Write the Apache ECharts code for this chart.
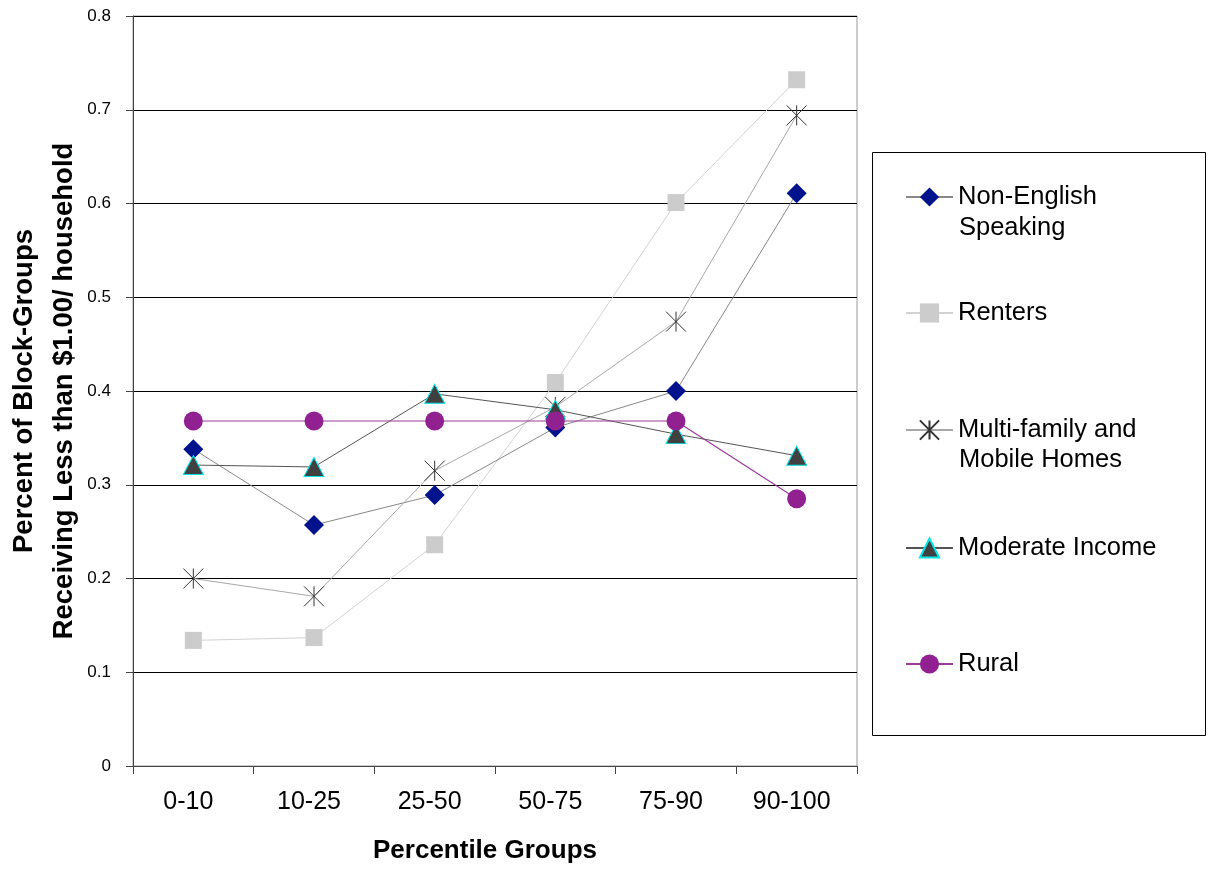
<!DOCTYPE html>
<html>
<head>
<meta charset="utf-8">
<script src="https://cdn.jsdelivr.net/npm/echarts@6/dist/echarts.min.js"></script>
<style>
  html, body { margin: 0; padding: 0; background: #fff; }
  #chart { width: 1208px; height: 873px; }
</style>
</head>
<body>
<div id="chart"></div>
<script>
// Percentile groups along the x axis
const categories = ['0-10', '10-25', '25-50', '50-75', '75-90', '90-100'];

// Share of block-groups receiving less than $1.00 per household
const nonEnglish     = [0.338, 0.257, 0.289, 0.361, 0.400, 0.611];
const renters        = [0.134, 0.137, 0.236, 0.409, 0.601, 0.732];
const multiFamily    = [0.200, 0.181, 0.315, 0.383, 0.474, 0.694];
const moderateIncome = [0.321, 0.319, 0.397, 0.380, 0.354, 0.331];
const rural          = [0.368, 0.368, 0.368, 0.368, 0.368, 0.285];

const yTicks = [0, 0.1, 0.2, 0.3, 0.4, 0.5, 0.6, 0.7, 0.8];

const yTitle = 'Percent of Block-Groups\nReceiving Less than $1.00/ household';
const xTitle = 'Percentile Groups';

const FONT = '"Liberation Sans", Arial, sans-serif';
const starPath = 'path://M0,0L10,10M0,10L10,0M5,0L5,10';

const chart = echarts.init(document.getElementById('chart'), null, { renderer: 'canvas' });

// one legend block per entry so each icon sits on its first text line
const legendRows = [
  { name: 'Non-English Speaking', label: 'Non-English', y: 195 },
  { name: 'Renters', label: 'Renters', y: 311 },
  { name: 'Multi-family and Mobile Homes', label: 'Multi-family and', y: 428 },
  { name: 'Moderate Income', label: 'Moderate Income', y: 546 },
  { name: 'Rural', label: 'Rural', y: 662 }
];

const legends = legendRows.map(r => ({
  data: [r.name],
  left: 905,
  top: r.y - 11,
  padding: 0,
  itemWidth: 47,
  itemHeight: 24,
  itemGap: 0,
  selectedMode: false,
  formatter: () => r.label,
  textStyle: { fontFamily: FONT, fontSize: 25.5, color: '#000' }
}));

const option = {
  animation: false,
  backgroundColor: '#fff',
  grid: {
    left: 133, right: 351, top: 16, bottom: 107,
    containLabel: false, outerBoundsMode: 'none',
    show: true, borderColor: '#999', borderWidth: 1, backgroundColor: 'transparent'
  },
  legend: legends,
  graphic: [
    { type: 'rect', shape: { x: 872.5, y: 152.5, width: 333, height: 583 }, style: { fill: 'none', stroke: '#000', lineWidth: 1 }, z: -1 },
    { type: 'text', x: 959, y: 228, style: { text: 'Speaking', fontFamily: FONT, fontSize: 25.5, fill: '#000', verticalAlign: 'middle' } },
    { type: 'text', x: 959, y: 460, style: { text: 'Mobile Homes', fontFamily: FONT, fontSize: 25.5, fill: '#000', verticalAlign: 'middle' } },
    {
      type: 'text', x: 44, y: 391, rotation: Math.PI / 2,
      style: {
        text: yTitle, fontFamily: FONT, fontSize: 27.5, fontWeight: 'bold', fill: '#000',
        lineHeight: 40, align: 'center', verticalAlign: 'middle'
      }
    }
  ],
  xAxis: {
    type: 'category',
    data: categories,
    boundaryGap: true,
    name: xTitle,
    nameLocation: 'middle',
    nameGap: 72,
    nameTextStyle: { fontFamily: FONT, fontSize: 26, fontWeight: 'bold', color: '#000', padding: [0, 20, 0, 0] },
    axisLine: { show: true, lineStyle: { color: '#444', width: 1 } },
    axisTick: { show: true, alignWithLabel: false, length: 8, lineStyle: { color: '#444' } },
    axisLabel: { fontFamily: FONT, fontSize: 25, color: '#000', margin: 24, padding: [0, 10, 0, 0] },
    splitLine: { show: false }
  },
  yAxis: {
    type: 'value',
    min: 0,
    max: 0.8,
    interval: 0.1,
    axisLine: { show: true, lineStyle: { color: '#444', width: 1 } },
    axisTick: { show: true, length: 7, lineStyle: { color: '#444' } },
    axisLabel: {
      fontFamily: FONT, fontSize: 17, color: '#000', margin: 22,
      formatter: v => {
        const t = yTicks.find(k => Math.abs(k - v) < 1e-6);
        return t === undefined ? '' : String(t);
      }
    },
    splitLine: { show: true, lineStyle: { color: '#000', width: 1 } }
  },
  series: [
    {
      name: 'Non-English Speaking', type: 'line', data: nonEnglish,
      symbol: 'diamond', symbolSize: 20,
      itemStyle: { color: '#00128C' },
      lineStyle: { color: '#888', width: 1 }, z: 3
    },
    {
      name: 'Renters', type: 'line', data: renters,
      symbol: 'rect', symbolSize: 17,
      itemStyle: { color: '#CCCCCC' },
      lineStyle: { color: '#D2D2D2', width: 1 }, z: 2
    },
    {
      name: 'Multi-family and Mobile Homes', type: 'line', data: multiFamily,
      symbol: starPath, symbolSize: 20,
      itemStyle: { color: 'transparent', borderColor: '#333', borderWidth: 1 },
      lineStyle: { color: '#A8A8A8', width: 1 }, z: 4
    },
    {
      name: 'Moderate Income', type: 'line', data: moderateIncome,
      symbol: 'triangle', symbolSize: [20, 19],
      itemStyle: { color: '#404040', borderColor: '#00E5E5', borderWidth: 1 },
      lineStyle: { color: '#555', width: 1 }, z: 5
    },
    {
      name: 'Rural', type: 'line', data: rural,
      symbol: 'circle', symbolSize: 19,
      itemStyle: { color: '#912191' },
      lineStyle: { color: '#9C3A9C', width: 1.2 }, z: 6
    }
  ]
};

chart.setOption(option);
</script>
</body>
</html>
